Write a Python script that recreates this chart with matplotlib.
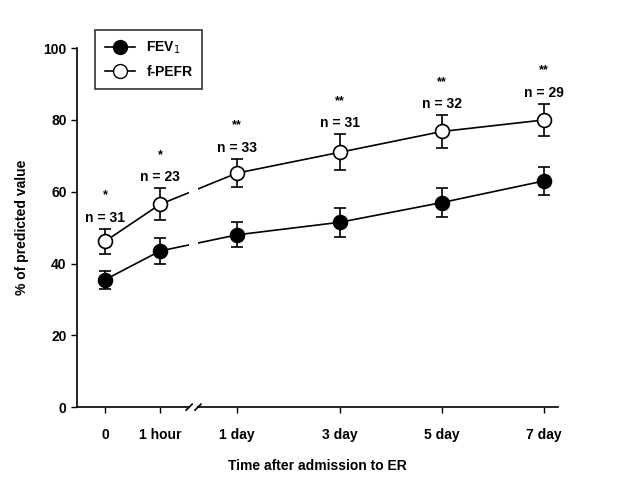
import matplotlib
matplotlib.use("Agg")
import matplotlib.pyplot as plt
from matplotlib.lines import Line2D
import numpy as np

plt.rcParams['font.family'] = ['Liberation Sans', 'DejaVu Sans']

categories = ["0", "1 hour", "1 day", "3 day", "5 day", "7 day"]
fev1 = [35.5, 43.5, 48.0, 51.5, 57.0, 63.0]
fev1_err = [2.5, 3.5, 3.5, 4.0, 4.0, 4.0]
pefr = [46.2, 56.5, 65.2, 71.0, 76.8, 80.0]
pefr_err = [3.5, 4.5, 4.0, 5.0, 4.5, 4.5]
n_labels = ["n = 31", "n = 23", "n = 33", "n = 31", "n = 32", "n = 29"]
stars = ["*", "*", "**", "**", "**", "**"]

# x positions (broken axis between "1 hour" and "1 day")
xpos = np.array([0, 1, 2.4, 4.27, 6.13, 7.98])
xmin, xmax = -0.51, 8.24
brk_lo, brk_hi = 1.53, 1.69

fig = plt.figure(figsize=(6.42, 4.87), dpi=100)
ax = fig.add_axes([0.12, 0.164, 0.749, 0.737])
ax.set_xlim(xmin, xmax)
ax.set_ylim(0, 100)

lw = 1.2
# connecting lines
ax.plot(xpos, fev1, '-', color='black', lw=lw, zorder=2)
ax.plot(xpos, pefr, '-', color='black', lw=lw, zorder=2)
# gap for the axis break
ax.axvspan(brk_lo, brk_hi, color='white', zorder=2.1, lw=0)
# error bars
ax.errorbar(xpos, fev1, yerr=fev1_err, fmt='none', ecolor='black',
            elinewidth=1.2, capsize=4, capthick=1.2, zorder=2.2)
ax.errorbar(xpos, pefr, yerr=pefr_err, fmt='none', ecolor='black',
            elinewidth=1.2, capsize=4, capthick=1.2, zorder=2.2)
# markers
ax.plot(xpos, fev1, 'o', ls='none', mfc='black', mec='black', ms=10, mew=1.2, zorder=3)
ax.plot(xpos, pefr, 'o', ls='none', mfc='white', mec='black', ms=10, mew=1.2, zorder=3)

# annotations above f-PEFR
for x, y, e, nl, st in zip(xpos, pefr, pefr_err, n_labels, stars):
    ax.annotate(nl, (x, y + e), xytext=(0, 8), textcoords='offset points',
                ha='center', va='center', fontsize=10, fontweight='bold')
    ax.annotate(st, (x, y + e), xytext=(0, 24), textcoords='offset points',
                ha='center', va='center', fontsize=9, fontweight='bold')

# spines
for s in ['top', 'right']:
    ax.spines[s].set_visible(False)
ax.spines['bottom'].set_visible(False)
ax.spines['left'].set_linewidth(1.2)
ax.plot([xmin, brk_lo], [0, 0], color='black', lw=1.2, clip_on=False, zorder=4)
ax.plot([brk_hi, xmax], [0, 0], color='black', lw=1.2, clip_on=False, zorder=4)
# break marks
inv = ax.transData.inverted()
for xb in (brk_lo, brk_hi):
    xd = ax.transData.transform((xb, 0))
    p1 = inv.transform((xd[0] - 3, xd[1] - 3))
    p2 = inv.transform((xd[0] + 3, xd[1] + 3))
    ax.plot([p1[0], p2[0]], [p1[1], p2[1]], color='black', lw=1.2, clip_on=False, zorder=4)

ax.set_xticks(xpos)
ax.set_xticklabels(categories)
ax.set_yticks([0, 20, 40, 60, 80, 100])
ax.tick_params(direction='out', length=4, width=1, labelsize=10)
for lab in ax.get_xticklabels() + ax.get_yticklabels():
    lab.set_fontweight('bold')
ax.tick_params(axis='x', pad=11)

ax.set_xlabel("Time after admission to ER", fontsize=10, fontweight='bold', labelpad=12)
ax.set_ylabel("% of predicted value", fontsize=10, fontweight='bold', labelpad=10)

handles = [
    Line2D([], [], color='black', lw=lw, marker='o', mfc='black', mec='black', ms=10),
    Line2D([], [], color='black', lw=lw, marker='o', mfc='white', mec='black', ms=10),
]
leg = fig.legend(handles, ["FEV$_1$", "f-PEFR"], loc='upper left',
                 bbox_to_anchor=(0.148, 0.938), frameon=True, fancybox=False,
                 edgecolor='black', fontsize=10, handlelength=2.2,
                 borderpad=0.7, labelspacing=0.65, borderaxespad=0)
leg.get_frame().set_linewidth(1.2)
for t in leg.get_texts():
    t.set_fontweight('bold')

fig.savefig("out.png", dpi=100, facecolor='white')
